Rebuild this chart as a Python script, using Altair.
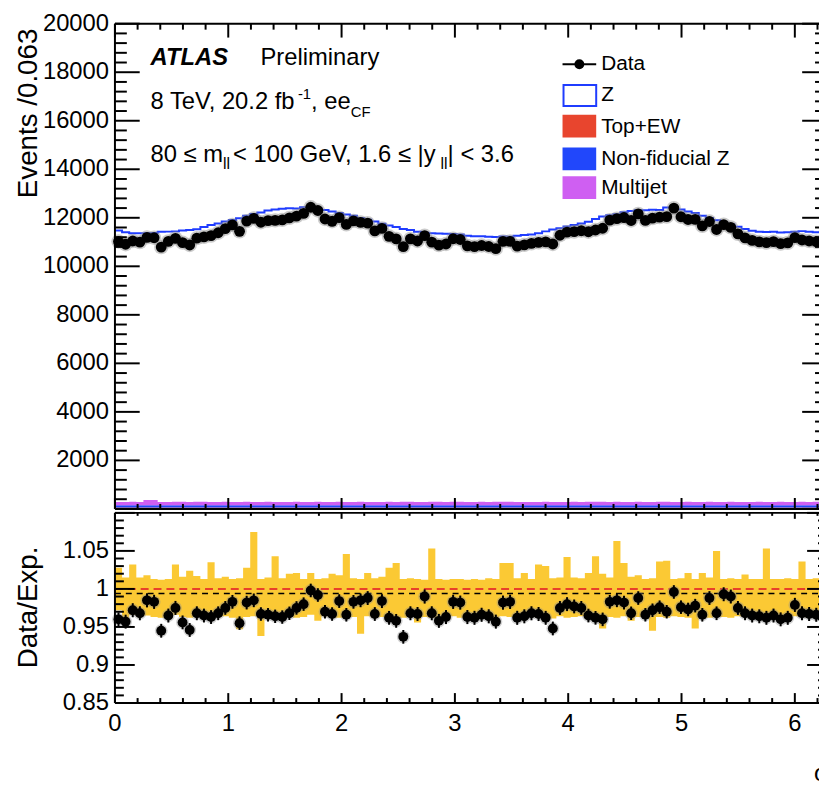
import math
import pandas as pd
import altair as alt

# ---------------- values ----------------
PHI_MAX = 2 * math.pi
N_BINS = 100

# total expectation (stacked Z + backgrounds), events per bin
mc_total = [
    11480, 11400, 11360, 11360, 11360, 11370, 11420, 11430, 11440, 11480,
    11500, 11530, 11620, 11700, 11760, 11850, 11910, 11980, 12080, 12160,
    12220, 12300, 12340, 12370, 12390, 12380, 12430, 12460, 12400, 12320,
    12260, 12200, 12140, 12080, 11990, 11920, 11850, 11750, 11680, 11620,
    11540, 11500, 11420, 11380, 11360, 11350, 11340, 11330, 11310, 11260,
    11240, 11240, 11220, 11210, 11230, 11220, 11260, 11290, 11310, 11360,
    11440, 11520, 11570, 11640, 11700, 11760, 11840, 11950, 12050, 12110,
    12150, 12230, 12280, 12310, 12310, 12330, 12320, 12420, 12450, 12340,
    12260, 12200, 12080, 11990, 11900, 11800, 11720, 11630, 11540, 11470,
    11420, 11410, 11420, 11390, 11400, 11420, 11450, 11420, 11400, 11420]

# Data / Expectation per bin
ratio = [
    0.960, 0.957, 0.972, 0.968, 0.985, 0.983, 0.945, 0.965, 0.975, 0.956,
    0.946, 0.968, 0.965, 0.963, 0.968, 0.975, 0.983, 0.955, 0.982, 0.985,
    0.967, 0.966, 0.964, 0.963, 0.968, 0.975, 0.980, 0.998, 0.992, 0.970,
    0.967, 0.984, 0.966, 0.983, 0.985, 0.988, 0.967, 0.984, 0.962, 0.958,
    0.937, 0.968, 0.967, 0.990, 0.968, 0.958, 0.963, 0.983, 0.982, 0.963,
    0.962, 0.966, 0.964, 0.957, 0.982, 0.983, 0.962, 0.964, 0.968, 0.967,
    0.962, 0.948, 0.975, 0.980, 0.977, 0.975, 0.965, 0.962, 0.960, 0.983,
    0.985, 0.982, 0.968, 0.988, 0.966, 0.972, 0.976, 0.970, 0.996, 0.976,
    0.973, 0.978, 0.966, 0.988, 0.968, 0.993, 0.990, 0.975, 0.968, 0.965,
    0.964, 0.962, 0.965, 0.960, 0.962, 0.979, 0.968, 0.967, 0.966, 0.965]

# systematic band (yellow), upper and lower edge per bin
band_up = [
    1.028, 1.015, 1.032, 1.015, 1.018, 1.013, 1.012, 1.013, 1.032, 1.016,
    1.024, 1.017, 1.013, 1.035, 1.014, 1.016, 1.013, 1.014, 1.028, 1.075,
    1.013, 1.015, 1.043, 1.014, 1.020, 1.021, 1.013, 1.021, 1.013, 1.014,
    1.020, 1.018, 1.046, 1.014, 1.013, 1.021, 1.014, 1.016, 1.028, 1.034,
    1.013, 1.014, 1.013, 1.012, 1.053, 1.013, 1.012, 1.013, 1.013, 1.012,
    1.013, 1.012, 1.014, 1.013, 1.034, 1.034, 1.014, 1.021, 1.013, 1.032,
    1.030, 1.014, 1.015, 1.042, 1.015, 1.014, 1.021, 1.043, 1.020, 1.015,
    1.063, 1.034, 1.016, 1.018, 1.013, 1.014, 1.036, 1.037, 1.013, 1.014,
    1.021, 1.013, 1.021, 1.015, 1.050, 1.013, 1.014, 1.013, 1.019, 1.013,
    1.013, 1.053, 1.013, 1.013, 1.014, 1.013, 1.036, 1.013, 1.014, 1.013]
band_dn = [
    0.972, 0.958, 0.966, 0.964, 0.965, 0.963, 0.962, 0.964, 0.966, 0.963,
    0.962, 0.964, 0.963, 0.965, 0.963, 0.964, 0.962, 0.947, 0.963, 0.964,
    0.938, 0.963, 0.965, 0.962, 0.964, 0.962, 0.963, 0.966, 0.958, 0.964,
    0.963, 0.962, 0.964, 0.963, 0.941, 0.964, 0.962, 0.963, 0.965, 0.963,
    0.962, 0.964, 0.956, 0.963, 0.962, 0.957, 0.963, 0.964, 0.962, 0.963,
    0.962, 0.964, 0.963, 0.962, 0.964, 0.963, 0.962, 0.963, 0.964, 0.962,
    0.963, 0.961, 0.964, 0.962, 0.963, 0.964, 0.962, 0.958, 0.948, 0.963,
    0.962, 0.964, 0.958, 0.963, 0.962, 0.945, 0.963, 0.962, 0.964, 0.963,
    0.962, 0.948, 0.963, 0.962, 0.964, 0.963, 0.962, 0.964, 0.963, 0.962,
    0.963, 0.964, 0.962, 0.963, 0.962, 0.964, 0.963, 0.962, 0.963, 0.962]

# small backgrounds at the bottom of the upper panel
bkg_top_ew = [
    60, 60, 61, 60, 60, 60, 59, 60, 60, 61, 60, 60, 60, 60, 59, 60, 60, 60, 61, 60,
    60, 60, 60, 59, 60, 60, 61, 60, 60, 60, 60, 60, 59, 60, 60, 60, 61, 60, 60, 60,
    60, 59, 60, 60, 60, 61, 60, 60, 60, 60, 60, 60, 59, 60, 60, 61, 60, 60, 60, 60,
    60, 60, 60, 59, 60, 60, 61, 60, 60, 60, 60, 60, 60, 59, 60, 60, 61, 60, 60, 60,
    60, 60, 59, 60, 60, 60, 61, 60, 60, 60, 60, 60, 60, 59, 60, 60, 61, 60, 60, 60]
bkg_nonfid_z = [
    90, 92, 89, 90, 91, 90, 90, 89, 92, 90, 90, 91, 90, 89, 90, 92, 90, 90, 91, 90,
    89, 90, 90, 92, 90, 91, 90, 89, 90, 90, 92, 90, 90, 91, 90, 89, 90, 90, 92, 90,
    91, 90, 89, 90, 90, 92, 90, 90, 91, 90, 89, 90, 90, 92, 90, 91, 90, 89, 90, 90,
    92, 90, 90, 91, 90, 89, 90, 90, 92, 90, 91, 90, 89, 90, 90, 92, 90, 90, 91, 90,
    89, 90, 90, 92, 90, 91, 90, 89, 90, 90, 92, 90, 90, 91, 90, 89, 90, 90, 92, 90]
bkg_multijet = [
    140, 138, 142, 140, 220, 215, 141, 139, 140, 142, 138, 140, 141, 139, 140, 142, 140, 138, 141, 140,
    139, 142, 140, 138, 140, 141, 139, 140, 142, 140, 138, 141, 140, 139, 142, 140, 138, 140, 141, 139,
    140, 142, 140, 138, 141, 140, 139, 142, 140, 138, 140, 141, 139, 140, 142, 140, 138, 141, 140, 139,
    142, 140, 138, 140, 141, 139, 140, 142, 140, 138, 141, 140, 139, 142, 140, 138, 140, 141, 139, 140,
    142, 140, 138, 141, 140, 139, 142, 140, 138, 140, 141, 139, 140, 142, 140, 138, 141, 140, 139, 150]

top_y_labels = [2000, 4000, 6000, 8000, 10000, 12000, 14000, 16000, 18000, 20000]
ratio_y_labels = [0.85, 0.9, 0.95, 1.0, 1.05]
x_labels = [0, 1, 2, 3, 4, 5, 6]
ref_lines = [1.0, 0.994]

legend_names = ["Data", "Z", "Top+EW", "Non-fiducial Z", "Multijet"]
stack_names = ["Top+EW", "Non-fiducial Z", "Multijet"]
stack_colors = ["#e8452e", "#2147fb", "#cf5ff2"]

# ---------------- layout / style constants ----------------
FONT = "Liberation Sans"
PAD_L, PAD_T, PAD_B = 108, 12, 84
W_VIEW = 711          # visible part (window ends at page x 827)
X_SPAN = 719          # 0 .. 2*pi (right frame lies just outside the window)
H_TOP = 490           # upper panel: 0 .. 490
R_Y0, R_Y1 = 494, 686  # ratio panel
H_ALL = R_Y1
Z_BLUE = "#1f3cff"
YELLOW = "#fbc934"
RED_LINE = "#e8402a"
HALO = "#8c8c8c"

# ---------------- derived tables ----------------
w = PHI_MAX / N_BINS
edges = [i * w for i in range(N_BINS)] + [PHI_MAX]
rows = []
for i in range(N_BINS):
    d = ratio[i] * mc_total[i]
    e = math.sqrt(d)
    rows.append(dict(lo=i * w, hi=(i + 1) * w, c=(i + 0.5) * w,
                     mc=mc_total[i], data=d, d_lo=d - e, d_hi=d + e,
                     r=ratio[i], r_lo=ratio[i] - e / mc_total[i],
                     r_hi=ratio[i] + e / mc_total[i]))
bins = pd.DataFrame(rows)

stack_rows = []
cum = [0] * N_BINS
for name, vals in zip(stack_names, [bkg_top_ew, bkg_nonfid_z, bkg_multijet]):
    for j in range(N_BINS + 1):
        i = min(j, N_BINS - 1)
        stack_rows.append(dict(x=edges[j], y0=cum[i], y1=cum[i] + vals[i], comp=name))
    cum = [cum[i] + vals[i] for i in range(N_BINS)]
stack_df = pd.DataFrame(stack_rows)

step_df = pd.DataFrame({"x": edges, "y": mc_total + [mc_total[-1]]})
band_df = pd.DataFrame({"x": edges, "dn": band_dn + [band_dn[-1]],
                        "up": band_up + [band_up[-1]]})

xs = alt.Scale(domain=[0, PHI_MAX], range=[0, X_SPAN], nice=False, zero=False)
ys_top = alt.Scale(domain=[0, 20000], range=[H_TOP, 0], nice=False, zero=False)
ys_rat = alt.Scale(domain=[0.85, 1.1], range=[R_Y1, R_Y0], nice=False, zero=False)
ONE = pd.DataFrame({"k": [0]})

X = lambda f: alt.X(f, scale=xs, axis=None)


def rule1(**enc):
    return alt.Chart(ONE).mark_rule(color="black", strokeWidth=2).encode(**enc)


def yticks(vals, scale, x0, x1):
    return alt.Chart(pd.DataFrame({"v": vals})).mark_rule(
        color="black", strokeWidth=2).encode(
        y=alt.Y("v:Q", scale=scale, axis=None),
        x=alt.value(x0), x2=alt.value(x1))


def xticks(vals, y0, y1):
    return alt.Chart(pd.DataFrame({"v": vals})).mark_rule(
        color="black", strokeWidth=2).encode(
        x=X("v:Q"), y=alt.value(y0), y2=alt.value(y1))


def frame(y0, y1):
    return [rule1(x=alt.value(0), y=alt.value(y0), y2=alt.value(y1)),
            rule1(x=alt.value(X_SPAN), y=alt.value(y0), y2=alt.value(y1)),
            rule1(y=alt.value(y0), x=alt.value(0), x2=alt.value(X_SPAN)),
            rule1(y=alt.value(y1), x=alt.value(0), x2=alt.value(X_SPAN))]


def txt(s, x, y, size, align="left", baseline="alphabetic", **kw):
    return alt.Chart(ONE).mark_text(
        font=FONT, fontSize=size, align=align, baseline=baseline,
        color="black", **kw).encode(x=alt.value(x), y=alt.value(y), text=alt.value(s))


AW = {' ': .278, ',': .278, '.': .278, '-': .333, '/': .278, 'T': .611, 'e': .556,
      'V': .667, 'f': .278, 'b': .556, 'C': .722, 'F': .611, 'm': .833, 'l': .222,
      '<': .584, 'G': .778, '|': .26, 'y': .5, '\u2264': .549}


def width(s, size):
    return sum(AW.get(ch, .556) for ch in s) * size


def text_line(pieces, x, y):
    out = []
    for s, size, dy, dx in pieces:
        x += dx
        out.append(txt(s, x, y + dy, size))
        x += width(s, size)
    return out


y_major_top = list(range(0, 20001, 2000))
y_minor_top = [v for v in range(0, 20001, 400) if v % 2000]
x_major = [0, 1, 2, 3, 4, 5, 6]
x_minor = [round(0.2 * k, 1) for k in range(0, 32) if k % 5]
r_major = [0.85, 0.9, 0.95, 1.0, 1.05, 1.1]
r_minor = [round(0.85 + 0.01 * k, 2) for k in range(0, 26) if k % 5]

layers = []

# ---------------- upper panel ----------------
layers.append(alt.Chart(stack_df).mark_area(interpolate="step-after", opacity=1).encode(
    x=X("x:Q"),
    y=alt.Y("y0:Q", scale=ys_top, axis=None), y2="y1:Q",
    color=alt.Color("comp:N", scale=alt.Scale(domain=stack_names, range=stack_colors),
                    legend=None)))
layers.append(alt.Chart(step_df).mark_line(interpolate="step-after", color=Z_BLUE,
                                           strokeWidth=2).encode(
    x=X("x:Q"), y=alt.Y("y:Q", scale=ys_top, axis=None)))
layers.append(alt.Chart(bins).mark_circle(size=210, color=HALO, opacity=0.45).encode(
    x=X("c:Q"), y=alt.Y("data:Q", scale=ys_top, axis=None)))
layers.append(alt.Chart(bins).mark_rule(color="black", strokeWidth=2).encode(
    x=X("c:Q"), y=alt.Y("d_lo:Q", scale=ys_top, axis=None), y2="d_hi:Q"))
layers.append(alt.Chart(bins).mark_rule(color="black", strokeWidth=2).encode(
    x=X("lo:Q"), x2="hi:Q", y=alt.Y("data:Q", scale=ys_top, axis=None)))
layers.append(alt.Chart(bins).mark_circle(size=120, color="black", opacity=1).encode(
    x=X("c:Q"), y=alt.Y("data:Q", scale=ys_top, axis=None)))

layers += [yticks(y_major_top, ys_top, 0, 25), yticks(y_minor_top, ys_top, 0, 12),
           yticks(y_major_top, ys_top, X_SPAN - 25, X_SPAN),
           yticks(y_minor_top, ys_top, X_SPAN - 12, X_SPAN),
           xticks(x_major, 0, 14), xticks(x_minor, 0, 6),
           xticks(x_major, H_TOP - 11, H_TOP), xticks(x_minor, H_TOP - 5, H_TOP)]
layers += frame(0, H_TOP)

# y labels + title (upper)
layers.append(alt.Chart(pd.DataFrame({"v": top_y_labels,
                                      "t": [str(v) for v in top_y_labels]})).mark_text(
    font=FONT, fontSize=24, align="right", baseline="middle", color="black").encode(
    y=alt.Y("v:Q", scale=ys_top, axis=None), x=alt.value(-6), text="t:N"))
layers.append(txt("Events /0.063", -79, 5, 28, align="right", angle=270))

# annotations
layers.append(txt("ATLAS", 36, 42, 24, fontWeight="bold", fontStyle="italic"))
layers.append(txt("Preliminary", 147, 42, 24))
layers += text_line([("8 TeV, 20.2 fb", 24, 0, 0), ("-1", 15, -10, -2),
                     (", ee", 24, 0, 0), ("CF", 15, 8, 0)], 36, 86)
layers += text_line([("80 \u2264 m", 24, 0, 0), ("ll", 16, 7, 0),
                     (" < 100 GeV, 1.6 \u2264 |y", 24, 0, 3), ("ll", 16, 7, -4),
                     ("| < 3.6", 24, 0, 0)], 36, 140)

# legend
LX0, LX1, LTX = 452, 486, 491
row_y = [41, 72, 104, 137, 166]
layers.append(rule1(x=alt.value(LX0), x2=alt.value(LX1), y=alt.value(row_y[0])))
layers.append(alt.Chart(ONE).mark_circle(size=100, color="black", opacity=1).encode(
    x=alt.value((LX0 + LX1) / 2), y=alt.value(row_y[0])))
layers.append(alt.Chart(ONE).mark_rect(fill="white", stroke=Z_BLUE, strokeWidth=2).encode(
    x=alt.value(LX0 + 1), x2=alt.value(LX1), y=alt.value(row_y[1] - 10),
    y2=alt.value(row_y[1] + 11)))
for k, col in enumerate(stack_colors):
    yc = row_y[2 + k]
    layers.append(alt.Chart(ONE).mark_rect(color=col).encode(
        x=alt.value(LX0), x2=alt.value(LX1), y=alt.value(yc - 12), y2=alt.value(yc + 11)))
for name, yc in zip(legend_names, row_y):
    layers.append(txt(name, LTX, yc, 21, baseline="middle"))

# ---------------- ratio panel ----------------
layers.append(alt.Chart(band_df).mark_area(interpolate="step-after", color=YELLOW,
                                           opacity=1).encode(
    x=X("x:Q"), y=alt.Y("dn:Q", scale=ys_rat, axis=None), y2="up:Q"))
layers.append(alt.Chart(pd.DataFrame({"v": [ref_lines[1]]})).mark_rule(
    color="black", strokeWidth=1.5, strokeDash=[6, 5]).encode(
    y=alt.Y("v:Q", scale=ys_rat, axis=None), x=alt.value(0), x2=alt.value(X_SPAN)))
layers.append(alt.Chart(pd.DataFrame({"v": [ref_lines[0]]})).mark_rule(
    color=RED_LINE, strokeWidth=2, strokeDash=[8, 5]).encode(
    y=alt.Y("v:Q", scale=ys_rat, axis=None), x=alt.value(0), x2=alt.value(X_SPAN)))
layers.append(alt.Chart(bins).mark_circle(size=170, color=HALO, opacity=0.4).encode(
    x=X("c:Q"), y=alt.Y("r:Q", scale=ys_rat, axis=None)))
layers.append(alt.Chart(bins).mark_rule(color="black", strokeWidth=2).encode(
    x=X("c:Q"), y=alt.Y("r_lo:Q", scale=ys_rat, axis=None), y2="r_hi:Q"))
layers.append(alt.Chart(bins).mark_rule(color="black", strokeWidth=2).encode(
    x=X("lo:Q"), x2="hi:Q", y=alt.Y("r:Q", scale=ys_rat, axis=None)))
layers.append(alt.Chart(bins).mark_circle(size=100, color="black", opacity=1).encode(
    x=X("c:Q"), y=alt.Y("r:Q", scale=ys_rat, axis=None)))

layers += [yticks(r_major, ys_rat, 0, 20), yticks(r_minor, ys_rat, 0, 9),
           yticks(r_major, ys_rat, X_SPAN - 20, X_SPAN),
           yticks(r_minor, ys_rat, X_SPAN - 9, X_SPAN),
           xticks(x_major, R_Y0, R_Y0 + 6), xticks(x_minor, R_Y0, R_Y0 + 3),
           xticks(x_major, R_Y1 - 10, R_Y1), xticks(x_minor, R_Y1 - 5, R_Y1)]
layers += frame(R_Y0, R_Y1)

layers.append(alt.Chart(pd.DataFrame({"v": ratio_y_labels,
                                      "t": [f"{v:g}" for v in ratio_y_labels]})).mark_text(
    font=FONT, fontSize=24, align="right", baseline="middle", color="black").encode(
    y=alt.Y("v:Q", scale=ys_rat, axis=None), x=alt.value(-6), text="t:N"))
layers.append(alt.Chart(pd.DataFrame({"v": x_labels,
                                      "t": [str(v) for v in x_labels]})).mark_text(
    font=FONT, fontSize=24, align="center", baseline="top", color="black").encode(
    x=X("v:Q"), y=alt.value(R_Y1 + 9), text="t:N"))
layers.append(txt("Data/Exp.", -79, R_Y0 + 34, 28, align="right", angle=270))
layers.append(txt("\u03c6", 706, R_Y1 + 79, 24))

chart = alt.layer(*layers).resolve_scale(y="independent").properties(
    width=W_VIEW, height=H_ALL,
    autosize=alt.AutoSizeParams(type="none"),
    padding={"left": PAD_L, "top": PAD_T, "right": 0, "bottom": PAD_B},
).configure_view(stroke=None)

chart.save("out.html", embed_options={"renderer": "svg", "actions": False})
